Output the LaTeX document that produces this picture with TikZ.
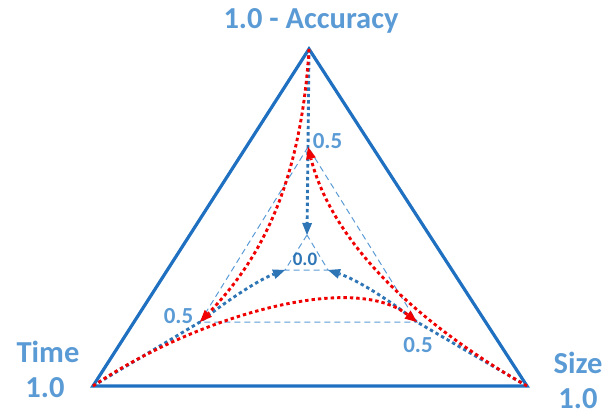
\documentclass[tikz,border=0pt]{standalone}
\usepackage{fontspec}
\setmainfont{Carlito}
\usetikzlibrary{arrows.meta}
\definecolor{outerblue}{RGB}{31,112,192}
\definecolor{dotblue}{RGB}{46,117,182}
\definecolor{lightblue}{RGB}{91,155,213}
\definecolor{redline}{RGB}{240,0,0}
\begin{document}
\begin{tikzpicture}[x=1pt,y=-1pt,
  outer/.style={draw=outerblue,line width=3.2pt,line join=miter},
  guide/.style={draw=lightblue,line width=1pt,dash pattern=on 6pt off 4pt},
  bluepath/.style={draw=dotblue,line width=2.9pt,dash pattern=on 3.4pt off 3pt,
    -{Triangle[length=12pt,width=10pt,line width=0pt]}},
  redpath/.style={draw=redline,line width=2.9pt,dash pattern=on 3.4pt off 3pt,
    -{Triangle[length=12pt,width=10pt,line width=0pt]}},
  lab/.style={text=lightblue,font=\bfseries\fontsize{30.5}{32}\selectfont,anchor=base,inner sep=0pt},
  tick/.style={text=lightblue,font=\bfseries\fontsize{23}{25}\selectfont,anchor=base,inner sep=0pt},
  tickin/.style={text=dotblue,font=\bfseries\fontsize{19}{21}\selectfont,anchor=base,inner sep=0pt},
]
\useasboundingbox (0,0) rectangle (612,418);
% outer vertices
\coordinate (A) at (309,49);
\coordinate (L) at (93,386);
\coordinate (R) at (527,386);
% middle (0.5) vertices
\coordinate (MT) at (308,147);
\coordinate (ML) at (200,322);
\coordinate (MR) at (417,322);
% inner (0.0) vertices
\coordinate (IT) at (307,235);
\coordinate (IL) at (285,270);
\coordinate (IR) at (328,270);

\draw[outer] (A) -- (L) -- (R) -- cycle;
\draw[guide] (MT) -- (ML) -- (MR) -- cycle;
\draw[guide] (IT) -- (IL) -- (IR) -- cycle;

% blue paths
\draw[bluepath] (A) -- (MT) -- (IT);
\draw[bluepath] (L) -- (ML) .. controls (225,302) and (258,280) .. (IL);
\draw[bluepath] (R) -- (MR) .. controls (392,302) and (358,280) .. (IR);

% red paths
\draw[redpath] (A) .. controls (300,200) and (250,270) .. (ML);
\draw[redpath] (R) .. controls (420,325) and (333,245) .. (MT);
\draw[redpath] (L) .. controls (190,320) and (350,270) .. (MR);

% labels
\node[lab] (acc) at (311,28) {1.0 - Accuracy};
\node[lab] (time) at (48,362) {Time};
\node[lab] (timev) at (45,397) {1.0};
\node[lab] (size) at (578,373) {Size};
\node[lab] (sizev) at (578,408) {1.0};
\node[tick] (t1) at (327.5,148) {0.5};
\node[tick] (t2) at (178.5,323) {0.5};
\node[tick] (t3) at (418,352) {0.5};
\node[tickin] (t0) at (305,265) {0.0};
\end{tikzpicture}
\end{document}
